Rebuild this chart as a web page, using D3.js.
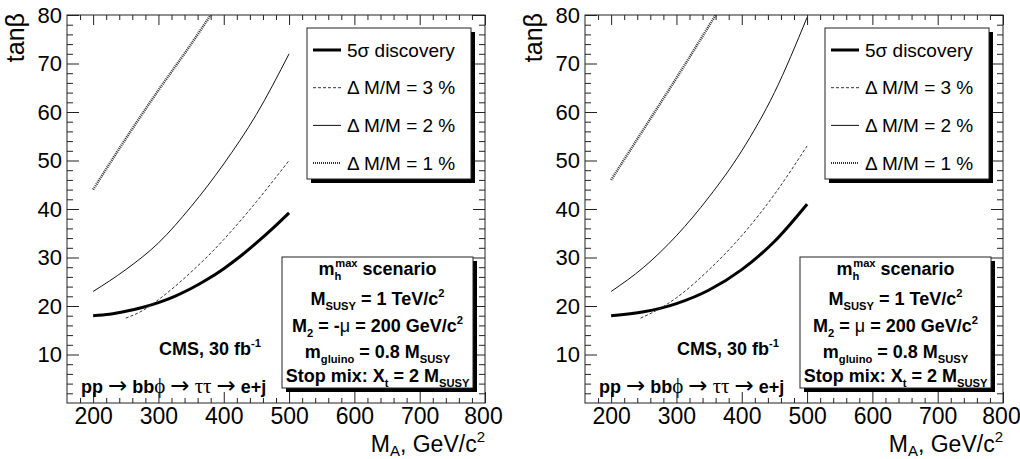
<!DOCTYPE html>
<html>
<head>
<meta charset="utf-8">
<script src="https://cdn.jsdelivr.net/npm/d3@7"></script>
<style>
  body { margin: 0; background: #fff; }
  svg { font-family: "Liberation Sans", Arial, Helvetica, sans-serif; }
  text { white-space: pre; }
</style>
</head>
<body>
<div id="chart"></div>
<script>
// axis ticks
const xMajor = [200, 300, 400, 500, 600, 700, 800];
const yMajor = [10, 20, 30, 40, 50, 60, 70, 80];
const legendLabels = ["5σ discovery", "Δ M/M = 3 %", "Δ M/M = 2 %", "Δ M/M = 1 %"];

// left panel: M2 = -mu   [M_A, tanb]
const negDisc = [[200, 18], [225, 18.3], [250, 18.9], [275, 19.7], [300, 20.7], [325, 22], [350, 23.6],
  [375, 25.5], [400, 27.7], [425, 30.2], [450, 33], [475, 36], [500, 39.2]];
const neg3 = [[250, 17.5], [275, 19], [300, 21.3], [325, 24], [350, 27], [375, 30.2], [400, 33.7],
  [425, 37.5], [450, 41.5], [475, 45.7], [500, 50]];
const neg2 = [[200, 23], [250, 27.5], [300, 33], [350, 40.5], [400, 49.3], [450, 59.5], [500, 72]];
const neg1 = [[200, 44], [250, 54.5], [300, 64.5], [350, 74], [380, 80]];

// right panel: M2 = mu
const posDisc = [[200, 18], [250, 18.8], [300, 20.5], [350, 23.3], [400, 27.5], [450, 33.3], [500, 41]];
const pos3 = [[245, 17.5], [275, 19.5], [300, 21.7], [350, 27.5], [400, 34.5], [450, 43], [500, 53]];
const pos2 = [[200, 23], [250, 28], [300, 34.5], [350, 42.5], [400, 52], [450, 64], [500, 79.5]];
const pos1 = [[200, 46], [250, 56.5], [300, 67], [360, 80]];

const styles = [
  { w: 3, dash: null, c: "#000" },
  { w: 1, dash: "3,2", c: "#333" },
  { w: 1, dash: null, c: "#111" },
  { w: 2.5, dash: "1,1", c: "#333" }
];

const width = 1020, height = 459;
const svg = d3.select("#chart").append("svg")
  .attr("width", width).attr("height", height);

function rich(text, parts, size, subShift = 0.3) {
  let shift = 0;
  parts.forEach(p => {
    const [str, kind = "n", opt = {}] = p;
    const target = kind === "sub" ? size * subShift : kind === "sup" ? -size * 0.42 : 0;
    const t = text.append("tspan").text(str).attr("dy", target - shift);
    if (kind !== "n") t.attr("font-size", size * 0.62);
    if (opt.dx) t.attr("dx", opt.dx);
    if (opt.weight) t.attr("font-weight", opt.weight);
    if (opt.family) t.attr("font-family", opt.family);
    if (opt.size) t.attr("font-size", opt.size);
    shift = target;
  });
}

function drawPanel(ox, curves, muSign) {
  const x = d3.scaleLinear().domain([160, 800]).range([ox, ox + 418]);
  const y = d3.scaleLinear().domain([0, 80]).range([403, 15]);
  const g = svg.append("g");
  const id = "clip" + ox;

  svg.append("clipPath").attr("id", id).append("rect")
    .attr("x", ox).attr("y", 15).attr("width", 418).attr("height", 388);

  // curves
  const line = d3.line().x(d => x(d[0])).y(d => y(d[1])).curve(d3.curveMonotoneX);
  curves.forEach((c, i) => {
    g.append("path").datum(c)
      .attr("clip-path", `url(#${id})`)
      .attr("d", line)
      .attr("fill", "none")
      .attr("stroke", styles[i].c)
      .attr("stroke-width", styles[i].w)
      .attr("stroke-dasharray", styles[i].dash);
  });

  // axes
  const xMinor = d3.range(180, 800, 20).filter(v => v % 100 !== 0);
  const yMinor = d3.range(2, 80, 2).filter(v => v % 10 !== 0);

  const bx = g.append("g").attr("transform", "translate(0,403)")
    .call(d3.axisBottom(x).tickValues(xMajor).tickSizeInner(-11).tickSizeOuter(0).tickPadding(5));
  g.append("g").attr("transform", "translate(0,403)")
    .call(d3.axisBottom(x).tickValues(xMinor).tickSize(-5).tickFormat(""));
  g.append("g").attr("transform", "translate(0,15)")
    .call(d3.axisTop(x).tickValues(xMajor).tickSizeInner(-10).tickSizeOuter(0).tickFormat(""));
  g.append("g").attr("transform", "translate(0,15)")
    .call(d3.axisTop(x).tickValues(xMinor).tickSize(-5).tickFormat(""));

  const ly = g.append("g").attr("transform", `translate(${ox},0)`)
    .call(d3.axisLeft(y).tickValues(yMajor).tickSizeInner(-12).tickSizeOuter(0).tickPadding(5));
  g.append("g").attr("transform", `translate(${ox},0)`)
    .call(d3.axisLeft(y).tickValues(yMinor).tickSize(-6).tickFormat(""));
  g.append("g").attr("transform", `translate(${ox + 418},0)`)
    .call(d3.axisRight(y).tickValues(yMajor).tickSizeInner(-12).tickSizeOuter(0).tickFormat(""));
  g.append("g").attr("transform", `translate(${ox + 418},0)`)
    .call(d3.axisRight(y).tickValues(yMinor).tickSize(-6).tickFormat(""));

  g.selectAll(".domain").remove();
  g.selectAll(".tick line").attr("stroke", "#222");
  g.selectAll(".tick text").attr("fill", "#000")
    .attr("font-family", "Liberation Sans, Arial, sans-serif");
  bx.selectAll(".tick text").attr("font-size", 23);
  ly.selectAll(".tick text").attr("font-size", 22);
  bx.selectAll(".tick text").filter(d => d === 800).attr("dx", -2);

  g.append("rect").attr("x", ox).attr("y", 15).attr("width", 418).attr("height", 388)
    .attr("fill", "none").attr("stroke", "#222").attr("stroke-width", 1);

  // axis titles
  const xt = g.append("text").attr("x", ox + 418).attr("y", 452)
    .attr("text-anchor", "end").attr("font-size", 23);
  rich(xt, [["M"], ["A", "sub", { size: 15 }], [", GeV/c"], ["2", "sup", { size: 15 }]], 23, 0.17);

  g.append("text").attr("transform", `translate(${ox - 43},13) rotate(-90)`)
    .attr("text-anchor", "end").attr("font-size", 25).text("tanβ");

  // legend
  const lx = ox + 240, ly0 = 28, lw = 164, lh = 151;
  g.append("rect").attr("x", lx + 4).attr("y", ly0 + 4).attr("width", lw).attr("height", lh).attr("fill", "#000");
  g.append("rect").attr("x", lx).attr("y", ly0).attr("width", lw).attr("height", lh)
    .attr("fill", "#fff").attr("stroke", "#222");
  legendLabels.forEach((name, i) => {
    const cy = ly0 + 22 + i * 37.7;
    g.append("line").attr("x1", lx + 6).attr("x2", lx + 34).attr("y1", cy).attr("y2", cy)
      .attr("stroke", styles[i].c).attr("stroke-width", i === 3 ? 2 : styles[i].w)
      .attr("stroke-dasharray", styles[i].dash);
    g.append("text").attr("x", lx + 40).attr("y", cy).attr("dy", "0.35em")
      .attr("font-size", 19).text(name);
  });

  // scenario box
  const bxx = ox + 215, byy = 257, bw = 191, bh = 131;
  g.append("rect").attr("x", bxx + 4).attr("y", byy + 4).attr("width", bw).attr("height", bh).attr("fill", "#000");
  g.append("rect").attr("x", bxx).attr("y", byy).attr("width", bw).attr("height", bh)
    .attr("fill", "#fff").attr("stroke", "#222");
  const cx = bxx + bw / 2;
  const lines = [
    [18, [["m"], ["h", "sub"], ["max", "sup", { dx: -6 }], [" scenario"]]],
    [48, [["M"], ["SUSY", "sub"], [" = 1 TeV/c"], ["2", "sup"]]],
    [75, [["M"], ["2", "sub"], [muSign < 0 ? " = -" : " = "], ["μ", "n", { weight: "normal" }], [" = 200 GeV/c"], ["2", "sup"]]],
    [101, [["m"], ["gluino", "sub"], [" = 0.8 M"], ["SUSY", "sub"]]],
    [125, [["Stop mix: X"], ["t", "sub"], [" = 2 M"], ["SUSY", "sub"]]]
  ];
  lines.forEach(([dy, parts]) => {
    const t = g.append("text").attr("x", cx).attr("y", byy + dy)
      .attr("text-anchor", "middle").attr("font-size", 18).attr("font-weight", "bold");
    rich(t, parts, 18);
  });

  // CMS labels
  const cms = g.append("text").attr("x", ox + 92).attr("y", 355)
    .attr("font-size", 18).attr("font-weight", "bold");
  rich(cms, [["CMS, 30 fb"], ["-1", "sup"]], 18);
  const arrow = { weight: "normal", family: "DejaVu Sans", size: 23 };
  const greek = { weight: "normal", family: "Liberation Serif", size: 21 };
  const proc = g.append("text").attr("x", ox + 14).attr("y", 393)
    .attr("font-size", 18).attr("font-weight", "bold");
  rich(proc, [["pp "], ["→", "n", arrow], [" bb"], ["ϕ", "n", greek],
    [" "], ["→", "n", arrow], [" "], ["ττ", "n", greek], [" "],
    ["→", "n", arrow], [" e+j"]], 18);
}

drawPanel(67, [negDisc, neg3, neg2, neg1], -1);
drawPanel(585, [posDisc, pos3, pos2, pos1], 1);
</script>
</body>
</html>
